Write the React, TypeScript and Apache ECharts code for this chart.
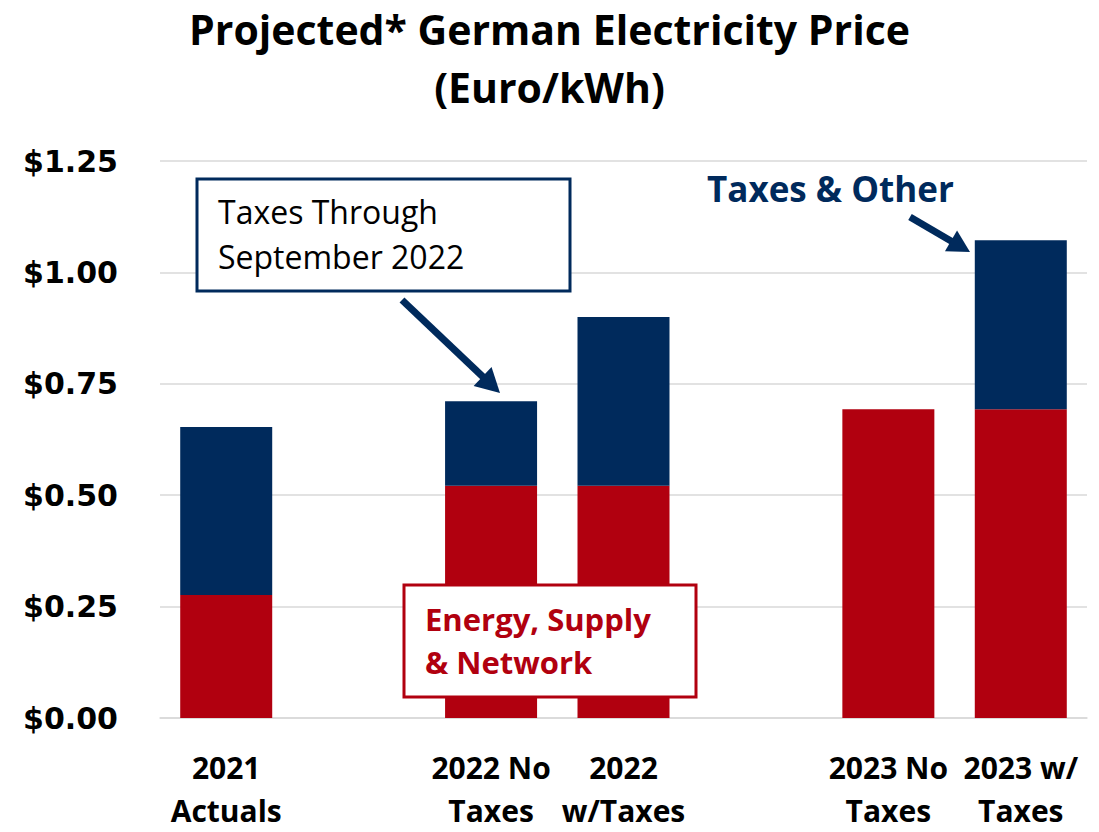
import React, { useEffect, useRef } from "react";
import * as echarts from "echarts";

const categories = ["2021\nActuals", "", "2022 No\nTaxes", "2022\nw/Taxes", "", "2023 No\nTaxes", "2023 w/\nTaxes"];
const energySupplyNetwork = [0.276, "-", 0.521, 0.521, "-", 0.693, 0.693];
const taxesOther = [0.377, "-", 0.19, 0.379, "-", 0, 0.379];
const yTicks = [0, 0.25, 0.5, 0.75, 1.0, 1.25];

const NAVY = "#002A5C";
const RED = "#B1000F";
const FONT = "Open Sans";
const TICK_FONT = "DejaVu Sans";

function arrow(x1: number, y1: number, x2: number, y2: number, head: number, half: number, width: number) {
  const dx = x2 - x1;
  const dy = y2 - y1;
  const len = Math.sqrt(dx * dx + dy * dy);
  const ux = dx / len;
  const uy = dy / len;
  const bx = x2 - head * ux;
  const by = y2 - head * uy;
  const px = -uy;
  const py = ux;
  return [
    {
      type: "line",
      z: 100,
      shape: { x1, y1, x2: bx + ux * 2, y2: by + uy * 2 },
      style: { stroke: NAVY, lineWidth: width },
    },
    {
      type: "polygon",
      z: 100,
      shape: {
        points: [
          [x2, y2],
          [bx + half * px, by + half * py],
          [bx - half * px, by - half * py],
        ],
      },
      style: { fill: NAVY },
    },
  ];
}

export default function App() {
  const ref = useRef<HTMLDivElement>(null);
  useEffect(() => {
    if (!ref.current) return;
    const chart = echarts.init(ref.current, null, { renderer: "svg" });
    chart.setOption({
      animation: false,
      title: {
        text: "Projected* German Electricity Price\n(Euro/kWh)",
        left: "center",
        top: 0,
        padding: 0,
        textStyle: {
          fontFamily: FONT,
          fontWeight: "bold",
          fontSize: 41,
          lineHeight: 58,
          color: "#000",
        },
      },
      grid: { left: 160, right: 12, top: 161, bottom: 110, containLabel: false },
      xAxis: {
        type: "category",
        data: categories,
        axisTick: { show: false },
        axisLine: { show: true, lineStyle: { color: "#d9d9d9", width: 1.5 } },
        axisLabel: {
          interval: 0,
          margin: 28,
          fontFamily: FONT,
          fontWeight: "bold",
          fontSize: 30,
          lineHeight: 43,
          color: "#000",
        },
      },
      yAxis: {
        type: "value",
        min: 0,
        max: 1.25,
        interval: 0.25,
        axisLine: { show: false },
        axisTick: { show: false },
        splitLine: { lineStyle: { color: "#d9d9d9", width: 1.5 } },
        axisLabel: {
          margin: 42,
          fontFamily: TICK_FONT,
          fontWeight: "bold",
          fontSize: 30,
          color: "#000",
          formatter: (v: number) => {
            const t = yTicks.find((x) => Math.abs(x - v) < 1e-9);
            return "$" + (t !== undefined ? t : v).toFixed(2);
          },
        },
      },
      series: [
        {
          name: "Energy, Supply & Network",
          type: "bar",
          stack: "total",
          barWidth: 92,
          data: energySupplyNetwork,
          itemStyle: { color: RED },
        },
        {
          name: "Taxes & Other",
          type: "bar",
          stack: "total",
          barWidth: 92,
          data: taxesOther,
          itemStyle: { color: NAVY },
        },
      ],
      graphic: [
        {
          type: "rect",
          z: 100,
          shape: { x: 197, y: 179, width: 373, height: 112 },
          style: { fill: "#fff", stroke: NAVY, lineWidth: 3 },
        },
        {
          type: "text",
          z: 101,
          x: 218,
          y: 189,
          style: {
            text: "Taxes Through\nSeptember 2022",
            fontFamily: FONT,
            fontSize: 32,
            lineHeight: 45,
            fill: "#000",
            textAlign: "left",
            textVerticalAlign: "top",
          },
        },
        ...arrow(402, 300, 500, 393, 24, 13, 7),
        {
          type: "text",
          z: 101,
          x: 707,
          y: 188,
          style: {
            text: "Taxes & Other",
            fontFamily: FONT,
            fontWeight: "bold",
            fontSize: 35,
            fill: NAVY,
            textAlign: "left",
            textVerticalAlign: "middle",
          },
        },
        ...arrow(910, 217, 970, 252, 22, 12, 7),
        {
          type: "rect",
          z: 100,
          shape: { x: 404, y: 585, width: 292, height: 112 },
          style: { fill: "#fff", stroke: RED, lineWidth: 3 },
        },
        {
          type: "text",
          z: 101,
          x: 425,
          y: 597,
          style: {
            text: "Energy, Supply\n& Network",
            fontFamily: FONT,
            fontWeight: "bold",
            fontSize: 31,
            lineHeight: 43,
            fill: RED,
            textAlign: "left",
            textVerticalAlign: "top",
          },
        },
      ],
    });
    return () => chart.dispose();
  }, []);
  return (
    <div
      ref={ref}
      style={{ position: "absolute", left: 0, top: 0, width: 1099, height: 832, background: "#fff" }}
    />
  );
}
